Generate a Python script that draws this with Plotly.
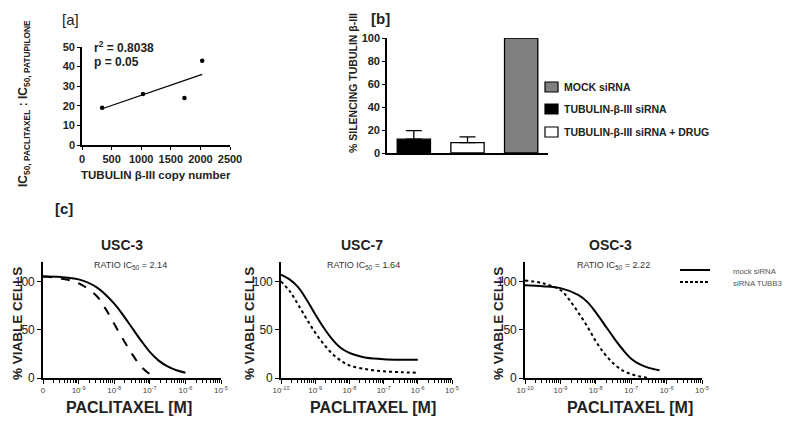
import plotly.graph_objects as go

W, H = 795, 425
FONT = "Liberation Sans, Arial, sans-serif"
# the page body adds an 8 px margin around the figure; layout positions below
# are given in window pixels and converted to paper fractions
OFF = 8

# ---------- panel [a] data ----------
a_copy_number = [340, 1030, 1730, 2030]
a_ic50_ratio = [19, 26, 24, 43]
a_fit_x = [340, 2030]
a_fit_y = [18.5, 36]
a_x_ticks = [0, 500, 1000, 1500, 2000, 2500]
a_y_ticks = [0, 10, 20, 30, 40, 50]

# ---------- panel [b] data ----------
b_labels = ["TUBULIN-β-III siRNA", "TUBULIN-β-III siRNA + DRUG", "MOCK siRNA"]
b_values = [12, 9, 100]
b_errors = [7.5, 5, 0]
b_fill = ["black", "white", "#808080"]
b_legend_order = [2, 0, 1]
b_y_ticks = [0, 20, 40, 60, 80, 100]

# ---------- panel [c] data (log10 concentration, % viable) ----------
usc3_mock_logx = [-10, -9.5, -9, -8.5, -8, -7.75, -7.5, -7.25, -7, -6.75, -6.5, -6.25, -6]
usc3_mock_y = [105, 104.5, 102, 94, 77, 65, 52, 39, 27, 18, 12, 8, 5.5]
usc3_si_logx = [-10, -9.5, -9, -8.5, -8.25, -8, -7.75, -7.5, -7.25, -7, -6.8]
usc3_si_y = [105, 103, 98, 85, 72, 56, 40, 25, 12, 4, 0]

usc7_mock_logx = [-10, -9.75, -9.5, -9.25, -9, -8.75, -8.5, -8.25, -8, -7.75, -7.5, -7, -6.5, -6]
usc7_mock_y = [107, 102, 94, 81, 66, 52, 40, 31, 26, 23, 21, 19.5, 19, 19]
usc7_si_logx = [-10, -9.75, -9.5, -9.25, -9, -8.75, -8.5, -8.25, -8, -7.5, -7, -6.5, -6]
usc7_si_y = [100, 90, 76, 61, 47, 35, 25, 18, 13, 9, 7, 6, 5.5]

osc3_mock_logx = [-10, -9.5, -9, -8.5, -8.25, -8, -7.75, -7.5, -7.25, -7, -6.75, -6.5, -6.2]
osc3_mock_y = [96, 95, 93, 86, 79, 68, 55, 42, 30, 20, 14, 10.5, 8]
osc3_si_logx = [-10, -9.5, -9, -8.75, -8.5, -8.25, -8, -7.75, -7.5, -7.25, -7, -6.75, -6.5]
osc3_si_y = [101, 98, 91, 81, 68, 54, 38, 25, 15, 8, 4, 1.5, 0]

c_series_names = ["mock siRNA", "siRNA TUBB3"]
c_titles = ["USC-3", "USC-7", "OSC-3"]
c_ratios = ["2.14", "1.64", "2.22"]
c_x_tickvals = [1e-10, 1e-9, 1e-8, 1e-7, 1e-6, 1e-5]
c_x_ticktext_first = ["0", "10<sup>-9</sup>", "10<sup>-8</sup>", "10<sup>-7</sup>", "10<sup>-6</sup>", "10<sup>-5</sup>"]
c_x_ticktext = ["10<sup>-10</sup>", "10<sup>-9</sup>", "10<sup>-8</sup>", "10<sup>-7</sup>", "10<sup>-6</sup>", "10<sup>-5</sup>"]
c_y_ticks = [0, 50, 100]


def fx(px):
    return (px - OFF) / W


def fy(py):
    return 1 - (py - OFF) / H


fig = go.Figure()

# panel a
fig.add_trace(go.Scatter(x=a_fit_x, y=a_fit_y, mode="lines", line=dict(color="black", width=1.2),
                         xaxis="x", yaxis="y", showlegend=False, hoverinfo="skip"))
fig.add_trace(go.Scatter(x=a_copy_number, y=a_ic50_ratio, mode="markers",
                         marker=dict(color="black", size=4.5), xaxis="x", yaxis="y",
                         showlegend=False, cliponaxis=False))

# panel b
for i in range(3):
    fig.add_trace(go.Bar(
        x=[i], y=[b_values[i]], name=b_labels[i], xaxis="x2", yaxis="y2",
        marker=dict(color=b_fill[i], line=dict(color="black", width=1.3)),
        width=0.62, showlegend=False,
        error_y=dict(type="data", array=[b_errors[i]], arrayminus=[0], symmetric=False,
                     visible=b_errors[i] > 0, color="black", thickness=1.3, width=8),
    ))

# panel c
curves = [
    (usc3_mock_logx, usc3_mock_y, usc3_si_logx, usc3_si_y, "dash"),
    (usc7_mock_logx, usc7_mock_y, usc7_si_logx, usc7_si_y, "dot"),
    (osc3_mock_logx, osc3_mock_y, osc3_si_logx, osc3_si_y, "dot"),
]
for k, (mx, my, sx, sy, dsh) in enumerate(curves):
    xa = "x%d" % (k + 3)
    ya = "y%d" % (k + 3)
    fig.add_trace(go.Scatter(x=[10 ** v for v in mx], y=my, mode="lines",
                             line=dict(color="black", width=2, shape="spline"),
                             xaxis=xa, yaxis=ya, name=c_series_names[0], showlegend=False))
    fig.add_trace(go.Scatter(x=[10 ** v for v in sx], y=sy, mode="lines",
                             line=dict(color="black", width=2, dash=dsh, shape="spline"),
                             xaxis=xa, yaxis=ya, name=c_series_names[1], showlegend=False))

axis_common = dict(showline=True, linecolor="black", linewidth=1.6, ticks="outside",
                   tickcolor="black", tickwidth=1.4, ticklen=4, showgrid=False,
                   zeroline=False, mirror=False, automargin=False)

layout = dict(
    width=W, height=H, margin=dict(l=0, r=0, t=0, b=0, autoexpand=False),
    paper_bgcolor="white", plot_bgcolor="white",
    font=dict(family=FONT, color="#222"),
    barmode="overlay", showlegend=False,
    xaxis=dict(axis_common, domain=[fx(82), fx(230)], range=[0, 2500], tickvals=a_x_ticks,
               anchor="y", tickfont=dict(size=11, family=FONT, weight="bold"), ticklen=3),
    yaxis=dict(axis_common, domain=[fy(145), fy(47)], range=[0, 50], tickvals=a_y_ticks,
               anchor="x", tickfont=dict(size=11, family=FONT, weight="bold"), ticklen=3),
    xaxis2=dict(axis_common, domain=[fx(387), fx(548)], range=[-0.5, 2.5], ticks="",
                showticklabels=False, anchor="y2"),
    yaxis2=dict(axis_common, domain=[fy(153), fy(38)], range=[0, 100], tickvals=b_y_ticks,
                anchor="x2", tickfont=dict(size=11, family=FONT, weight="bold"), ticklen=3),
)

c_domains = [(43, 221), (281, 452), (525, 702)]
for k, (l, r) in enumerate(c_domains):
    n = k + 3
    layout["xaxis%d" % n] = dict(
        axis_common, type="log", domain=[fx(l), fx(r)], range=[-10, -5],
        tickvals=c_x_tickvals, ticktext=(c_x_ticktext_first if k == 0 else c_x_ticktext),
        tickfont=dict(size=8, family=FONT, color="#444"), anchor="y%d" % n,
        minor=dict(ticks="outside", ticklen=3, tickcolor="black", tickwidth=1, dtick="D1"),
    )
    layout["yaxis%d" % n] = dict(
        axis_common, domain=[fy(378), fy(262)], range=[0, 120], tickvals=c_y_ticks,
        tickfont=dict(size=12, family=FONT, color="#222"), anchor="x%d" % n,
    )

fig.update_layout(**layout)

# small break in the USC-3 concentration axis near 10^-6
fig.add_shape(type="rect", xref="x3", yref="y3", x0=10 ** -6.12, x1=10 ** -5.9,
              y0=-4, y1=3, fillcolor="white", line=dict(width=0), layer="above")

ann = []


def add_text(text, px, py, size, bold=False, angle=0, xanchor="center", color="#222"):
    ann.append(dict(text=text, x=fx(px), y=fy(py), xref="paper", yref="paper",
                    showarrow=False, xanchor=xanchor, yanchor="middle", textangle=angle,
                    font=dict(size=size, family=FONT, color=color,
                              weight="bold" if bold else "normal")))


# legend of panel b (keys + labels)
b_key_y = [87, 109, 132]
for row, idx in enumerate(b_legend_order):
    yc = b_key_y[row]
    fig.add_shape(type="rect", xref="paper", yref="paper",
                  x0=fx(545), x1=fx(558), y0=fy(yc + 5), y1=fy(yc - 5),
                  fillcolor=b_fill[idx], line=dict(color="black", width=1.2))
    add_text(b_labels[idx], 562, yc, 10.5, bold=True, xanchor="left")

# legend of panel c (line keys + labels)
c_key_y = [270, 282]
c_key_dash = ["solid", "3px,2px"]
for row in range(2):
    yc = c_key_y[row]
    fig.add_shape(type="line", xref="paper", yref="paper",
                  x0=fx(680), x1=fx(710), y0=fy(yc), y1=fy(yc),
                  line=dict(color="black", width=2, dash=c_key_dash[row]))
    add_text(c_series_names[row], 731, yc + 1, 7.8, xanchor="left", color="#555")

add_text("[a]", 70, 20, 15)
add_text("[b]", 380, 18, 15, bold=True)
add_text("[c]", 64, 208, 15, bold=True)
add_text("r<sup>2</sup> = 0.8038", 92, 47, 12, bold=True, xanchor="left")
add_text("p = 0.05", 92, 62, 12, bold=True, xanchor="left")
add_text("IC<sub>50, PACLITAXEL</sub> : IC<sub>50, PATUPILONE</sub>", 24, 104, 12, bold=True, angle=-90)
add_text("TUBULIN β-III copy number", 156, 175, 11.5, bold=True)
add_text("% SILENCING TUBULIN β-III", 353, 83, 10.5, bold=True, angle=-90)

title_x = [122, 362, 610]
ratio_x = [130, 363, 613]
ylab_x = [17, 249, 498]
xlab_x = [129, 373, 630]
for k in range(3):
    add_text(c_titles[k], title_x[k], 245, 14, bold=True)
    add_text("RATIO IC<sub>50</sub> = " + c_ratios[k], ratio_x[k], 265, 9, color="#333")
    add_text("% VIABLE CELLS", ylab_x[k], 324, 13.5, bold=True, angle=-90)
    add_text("PACLITAXEL [M]", xlab_x[k], 407, 16, bold=True)

fig.update_layout(annotations=ann)
fig.write_html("out.html")
